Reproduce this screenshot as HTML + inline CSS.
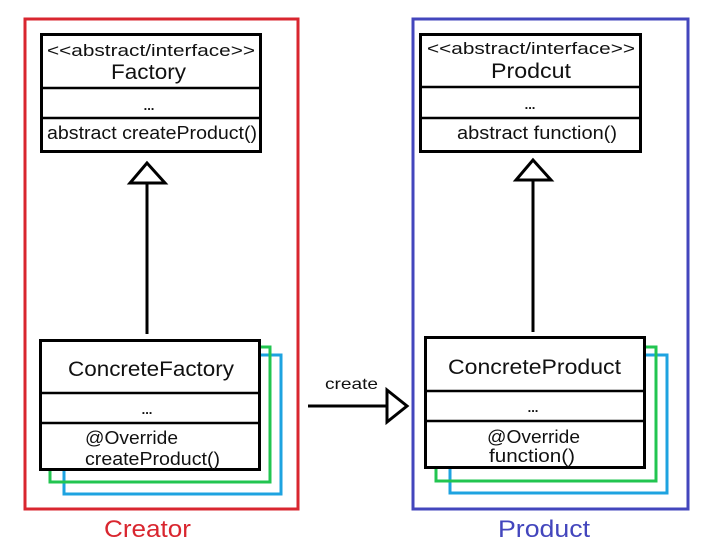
<!DOCTYPE html>
<html><head><meta charset="utf-8"><style>
html,body{margin:0;padding:0;background:#fff;}
svg{display:block;}
text{font-family:"Liberation Sans","DejaVu Sans",sans-serif;fill:#111;}
</style></head><body>
<svg width="710" height="550" viewBox="0 0 710 550" xmlns="http://www.w3.org/2000/svg">
<rect x="0" y="0" width="710" height="550" fill="#fff"/>
<rect x="25" y="19" width="273" height="490" fill="none" stroke="#d9262f" stroke-width="3"/>
<rect x="413" y="19" width="275" height="490" fill="none" stroke="#4346bd" stroke-width="3"/>
<text x="104" y="537" font-size="24" textLength="87" lengthAdjust="spacingAndGlyphs" style="fill:#d9262f">Creator</text>
<text x="498" y="537" font-size="24" textLength="92" lengthAdjust="spacingAndGlyphs" style="fill:#4346bd">Product</text>

<rect x="41.5" y="34.5" width="219" height="117" fill="#fff" stroke="#000" stroke-width="3"/>
<line x1="41" y1="88" x2="261" y2="88" stroke="#000" stroke-width="2.5"/>
<line x1="41" y1="118" x2="261" y2="118" stroke="#000" stroke-width="2.5"/>
<text x="47" y="56" font-size="17" textLength="208" lengthAdjust="spacingAndGlyphs">&lt;&lt;abstract/interface&gt;&gt;</text>
<text x="111" y="79" font-size="21" textLength="75" lengthAdjust="spacingAndGlyphs">Factory</text>
<text x="149" y="110" text-anchor="middle" font-size="13" font-weight="bold">...</text>
<text x="47" y="139" font-size="18" textLength="210" lengthAdjust="spacingAndGlyphs">abstract createProduct()</text>
<polygon points="147,163 130,183 165,183" fill="#fff" stroke="#000" stroke-width="3"/>
<line x1="147" y1="183" x2="147" y2="334" stroke="#000" stroke-width="3"/>

<polyline points="64,355 281,355 281,494 64,494 64,470" fill="none" stroke="#1ea3e0" stroke-width="3"/>
<polyline points="50,347 270,347 270,482 50,482 50,470" fill="none" stroke="#22c550" stroke-width="3"/>
<rect x="40.5" y="340.5" width="219" height="129" fill="#fff" stroke="#000" stroke-width="3"/>
<line x1="40" y1="393" x2="260" y2="393" stroke="#000" stroke-width="2.5"/>
<line x1="40" y1="423" x2="260" y2="423" stroke="#000" stroke-width="2.5"/>
<text x="68" y="376" font-size="21" textLength="166" lengthAdjust="spacingAndGlyphs">ConcreteFactory</text>
<text x="147" y="414" text-anchor="middle" font-size="13" font-weight="bold">...</text>
<text x="85" y="444" font-size="18" textLength="93" lengthAdjust="spacingAndGlyphs">@Override</text>
<text x="85" y="465" font-size="18" textLength="135" lengthAdjust="spacingAndGlyphs">createProduct()</text>

<rect x="420.5" y="34.5" width="220" height="117" fill="#fff" stroke="#000" stroke-width="3"/>
<line x1="420" y1="87" x2="641" y2="87" stroke="#000" stroke-width="2.5"/>
<line x1="420" y1="118" x2="641" y2="118" stroke="#000" stroke-width="2.5"/>
<text x="427" y="54" font-size="17" textLength="208" lengthAdjust="spacingAndGlyphs">&lt;&lt;abstract/interface&gt;&gt;</text>
<text x="491" y="78" font-size="21" textLength="80" lengthAdjust="spacingAndGlyphs">Prodcut</text>
<text x="530" y="109" text-anchor="middle" font-size="13" font-weight="bold">...</text>
<text x="457" y="139" font-size="18" textLength="160" lengthAdjust="spacingAndGlyphs">abstract function()</text>
<polygon points="533,160 516,180 551,180" fill="#fff" stroke="#000" stroke-width="3"/>
<line x1="533" y1="180" x2="533" y2="332" stroke="#000" stroke-width="3"/>

<polyline points="450,355 667,355 667,493 450,493 450,468" fill="none" stroke="#1ea3e0" stroke-width="3"/>
<polyline points="436,347 656,347 656,481 436,481 436,468" fill="none" stroke="#22c550" stroke-width="3"/>
<rect x="425.5" y="337.5" width="219" height="130" fill="#fff" stroke="#000" stroke-width="3"/>
<line x1="425" y1="391" x2="645" y2="391" stroke="#000" stroke-width="2.5"/>
<line x1="425" y1="421" x2="645" y2="421" stroke="#000" stroke-width="2.5"/>
<text x="448" y="374" font-size="21" textLength="173" lengthAdjust="spacingAndGlyphs">ConcreteProduct</text>
<text x="533" y="412" text-anchor="middle" font-size="13" font-weight="bold">...</text>
<text x="487" y="443" font-size="18" textLength="93" lengthAdjust="spacingAndGlyphs">@Override</text>
<text x="489" y="462" font-size="18" textLength="86" lengthAdjust="spacingAndGlyphs">function()</text>

<line x1="308" y1="406" x2="387" y2="406" stroke="#000" stroke-width="3"/>
<polygon points="387,390 407,406 387,422" fill="#fff" stroke="#000" stroke-width="3"/>
<text x="325" y="389" font-size="16" textLength="53" lengthAdjust="spacingAndGlyphs">create</text>
</svg>
</body></html>
